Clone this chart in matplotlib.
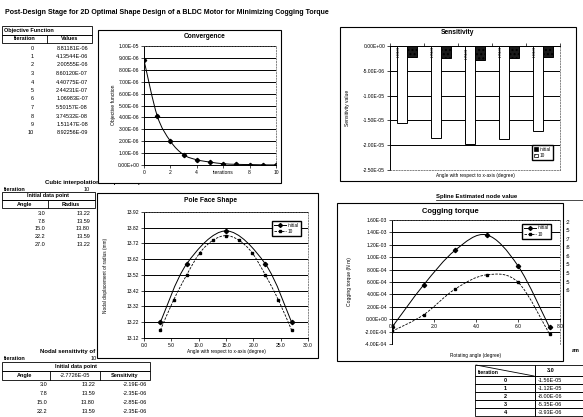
import numpy as np
import matplotlib
matplotlib.use('Agg')
import matplotlib.pyplot as plt
from matplotlib.patches import Rectangle, PathPatch, Patch
from matplotlib.path import Path
from matplotlib.lines import Line2D
from matplotlib.ticker import FormatStrFormatter

plt.rcParams['font.family'] = ['Liberation Sans', 'DejaVu Sans']

# ---- data
iterations = list(range(11))
objective = [8.81181e-06, 4.13544e-06, 2.00555e-06, 8.60120e-07, 4.40775e-07, 2.44231e-07,
             1.06983e-07, 5.50157e-08, 3.74532e-08, 1.51147e-08, 8.92256e-09]

sens_angles = [3.0, 7.8, 15.0, 22.2, 27.0]
sens_initial = [-1.56e-05, -1.85e-05, -1.98e-05, -1.87e-05, -1.71e-05]
sens_10 = [-2.19e-06, -2.35e-06, -2.85e-06, -2.35e-06, -2.19e-06]

pole_angles = [3.0, 7.8, 15.0, 22.2, 27.0]
radius_initial = [13.22, 13.59, 13.80, 13.59, 13.22]
pole_angles_10 = [3.0, 5.4, 7.8, 10.2, 12.6, 15.0, 17.4, 19.8, 22.2, 24.6, 27.0]
radius_10 = [13.17, 13.36, 13.52, 13.66, 13.74, 13.77, 13.74, 13.66, 13.52, 13.36, 13.17]

cog_angles = [0.0, 1.5, 3.0, 4.5, 6.0, 7.5]
cog_initial = [-1.3e-04, 5.5e-04, 1.11e-03, 1.36e-03, 8.6e-04, -1.3e-04]
cog_10 = [-1.95e-04, 7.0e-05, 4.85e-04, 7.15e-04, 5.97e-04, -2.4e-04]

spline_iter = [0, 1, 2, 3, 4]
spline_sens_3deg = [-1.56e-05, -1.12e-05, -8.00e-06, -5.35e-06, -3.93e-06]
cut_digits = ['2', '5', '7', '8', '6', '5', '5', '5', '6']

W, H = 583, 417
fig = plt.figure(figsize=(W / 100, H / 100), dpi=100)
fig.patch.set_facecolor('white')


def fx(x):
    return x / W


def fy(y):
    return 1 - y / H


def txt(x, y, s, size=4, ha='left', weight='normal', z=1, **kw):
    fig.text(fx(x), fy(y), s, fontsize=size, ha=ha, va='center',
             fontweight=weight, zorder=z, **kw)


def line(x0, y0, x1, y1, lw=0.6, z=1):
    fig.add_artist(Line2D([fx(x0), fx(x1)], [fy(y0), fy(y1)],
                          transform=fig.transFigure, color='black', lw=lw, zorder=z))


def rect(x0, y0, x1, y1, lw=0.6, z=1, fc='none'):
    fig.add_artist(Rectangle((fx(x0), fy(y1)), (x1 - x0) / W, (y1 - y0) / H,
                             transform=fig.transFigure, fc=fc, ec='black', lw=lw, zorder=z))


def new_axes(x0, y0, x1, y1):
    ax = fig.add_axes([fx(x0), fy(y1), (x1 - x0) / W, (y1 - y0) / H])
    ax.set_zorder(5)
    ax.tick_params(labelsize=3.6, length=2, width=0.5, pad=1.5)
    for s in ['top', 'right']:
        ax.spines[s].set_linestyle((0, (2, 2)))
        ax.spines[s].set_linewidth(0.5)
        ax.spines[s].set_color('#555555')
    for s in ['left', 'bottom']:
        ax.spines[s].set_linewidth(0.7)
    ax.yaxis.grid(True, color='black', lw=0.7)
    ax.set_axisbelow(True)
    return ax


def ftext(ax, x, y, s, size=4, rot=0, weight='normal', ha='center'):
    ax.text(fx(x), fy(y), s, transform=fig.transFigure, fontsize=size, rotation=rot,
            ha=ha, va='center', fontweight=weight, clip_on=False)


def smooth(ax, x, y, ls='-', lw=0.7):
    pts = np.column_stack([x, y]).astype(float)
    n = len(pts)
    verts = [pts[0]]
    codes = [Path.MOVETO]
    for i in range(n - 1):
        p0 = pts[i - 1] if i > 0 else pts[i]
        p1, p2 = pts[i], pts[i + 1]
        p3 = pts[i + 2] if i + 2 < n else pts[i + 1]
        verts += [p1 + (p2 - p0) / 6, p2 - (p3 - p1) / 6, p2]
        codes += [Path.CURVE4] * 3
    ax.add_patch(PathPatch(Path(verts, codes), fill=False, ec='black', lw=lw, ls=ls))


# ---- sheet text behind the charts
txt(5, 12, 'Post-Design Stage for 2D Optimal Shape Design of a BLDC Motor for Minimizing Cogging Torque',
    size=5, weight='bold')

# objective function table
rect(2, 26, 92, 35)
txt(4, 30.5, 'Objective Function', size=4, weight='bold')
rect(2, 35, 92, 43)
line(47, 35, 47, 43)
txt(24, 39, 'Iteration', size=4, ha='center', weight='bold')
txt(70, 39, 'Values', size=4, ha='center', weight='bold')
for i, v in zip(iterations, objective):
    txt(34, 48 + 8.5 * i, str(i), ha='right')
    txt(88, 48 + 8.5 * i, '%.5E' % v, ha='right')

# cubic interpolation table
txt(45, 183, 'Cubic interpolation of a pole shape', size=4.3, weight='bold')
txt(4, 189, 'Iteration', weight='bold')
txt(90, 189, '10', ha='right')
rect(2, 192, 95, 200)
txt(48, 196, 'Initial data point', ha='center', weight='bold')
rect(2, 200, 95, 208)
line(48, 200, 48, 208)
txt(25, 204, 'Angle', ha='center', weight='bold')
txt(71, 204, 'Radius', ha='center', weight='bold')
for k, (a, r) in enumerate(zip(pole_angles, radius_initial)):
    txt(45, 213 + 8 * k, '%.1f' % a, ha='right')
    txt(90, 213 + 8 * k, '%.2f' % r, ha='right')

# nodal sensitivity table
txt(40, 351, 'Nodal sensitivity of pole shape', size=4.3, weight='bold')
txt(4, 358, 'Iteration', weight='bold')
txt(97, 358, '10', ha='right')
rect(2, 362, 150, 371)
txt(76, 366.5, 'Initial data point', ha='center', weight='bold')
rect(2, 371, 150, 380)
line(50, 371, 50, 380)
line(100, 371, 100, 380)
txt(25, 375.5, 'Angle', ha='center', weight='bold')
txt(75, 375.5, '-2.7726E-05', ha='center')
txt(125, 375.5, 'Sensitivity', ha='center', weight='bold')
for k in range(4):
    txt(47, 385 + 8.7 * k, '%.1f' % pole_angles[k], ha='right')
    txt(95, 385 + 8.7 * k, '%.2f' % radius_initial[k], ha='right')
    txt(147, 385 + 8.7 * k, '%.2E' % sens_10[k], ha='right')

# spline table on the right
txt(436, 197, 'Spline Estimated node value', size=4.3, weight='bold')
line(436, 200, 583, 200, lw=0.5)
for k, d in enumerate(cut_digits):
    txt(566, 222 + 8.6 * k, ':' + d, size=4)
txt(572, 351, 'am', size=4, weight='bold')
rect(475, 365, 535, 376)
rect(535, 365, 590, 376)
line(476, 365, 534, 376, lw=0.6)
txt(478, 372, 'Iteration', size=3.8, weight='bold')
txt(547, 370, '3.0', weight='bold')
for k, (it, v) in enumerate(zip(spline_iter, spline_sens_3deg)):
    y0 = 376 + 8.0 * k
    rect(475, y0, 535, y0 + 8.0)
    rect(535, y0, 590, y0 + 8.0)
    txt(505, y0 + 4.0, str(it), ha='center', weight='bold')
    txt(538, y0 + 4.0, '%.2E' % v)

# ---- chart frames
rect(98, 30, 281, 183, lw=0.8, z=3, fc='white')
rect(340, 27, 576, 181, lw=0.8, z=3, fc='white')
rect(97, 193, 318, 358, lw=0.8, z=3, fc='white')
rect(337, 203, 563, 361, lw=0.8, z=3, fc='white')

# ---- convergence
ax = new_axes(144, 46, 276, 165)
smooth(ax, iterations, objective, lw=0.7)
ax.plot(iterations, objective, ls='none', marker='D', ms=2.2, color='black')
ax.set_xlim(0, 10)
ax.set_ylim(0, 1.0e-05)
ax.set_yticks([k * 1e-06 for k in range(11)])
ax.yaxis.set_major_formatter(FormatStrFormatter('%.2E'))
ax.set_xticks([0, 2, 4, 6, 8, 10])
ax.set_xticklabels(['0', '2', '4', 'iterations', '8', '10'])
ftext(ax, 205, 37, 'Convergence', size=4.8, weight='bold')
ftext(ax, 113, 105, 'Objective function', size=3.6, rot=90)

# ---- sensitivity
ax = new_axes(390, 46, 560, 170)
xs = np.arange(1, len(sens_angles) + 1)
ax.bar(xs - 0.15, sens_initial, width=0.3, color='white', edgecolor='black', lw=0.7, zorder=3)
ax.bar(xs + 0.15, sens_10, width=0.3, color='#1a1a1a', edgecolor='black', lw=0.7,
       hatch='....', zorder=3)
for xx, v in zip(xs, sens_10):
    ax.text(xx - 0.15 - 0.08, v / 2, '%.2E' % v, rotation=90, fontsize=1.8,
            ha='center', va='center', zorder=4)
ax.set_xlim(0.5, len(sens_angles) + 0.5)
ax.set_ylim(-2.5e-05, 0)
ax.set_yticks([-2.5e-05, -2.0e-05, -1.5e-05, -1.0e-05, -5.0e-06, 0.0])
ax.yaxis.set_major_formatter(FormatStrFormatter('%.2E'))
ax.xaxis.tick_top()
ax.set_xticks(np.arange(0.5, len(sens_angles) + 1, 1))
ax.set_xticklabels([])
ax.spines['top'].set_linestyle('-')
ax.spines['top'].set_color('black')
ax.spines['top'].set_linewidth(0.7)
ax.spines['bottom'].set_linestyle((0, (2, 2)))
ax.spines['bottom'].set_color('#555555')
ax.spines['bottom'].set_linewidth(0.5)
ftext(ax, 457, 33, 'Sensitivity', size=4.8, weight='bold')
ftext(ax, 347, 108, 'Sensitivity value', size=3.6, rot=90)
ftext(ax, 475, 175, 'Angle with respect to x-axis (degree)', size=3.4)
hs = [Patch(fc='black', ec='black', lw=0.5), Patch(fc='white', ec='black', lw=0.5, hatch='....')]
ax.legend(hs, ['initial', '10'], loc='lower right', bbox_to_anchor=(0.97, 0.06), fontsize=3.4,
          frameon=True, fancybox=False, edgecolor='black', framealpha=1, handlelength=0.8,
          handleheight=0.8, borderpad=0.4, labelspacing=0.3, handletextpad=0.4)

# ---- pole face shape
ax = new_axes(144, 212, 308, 338)
smooth(ax, pole_angles, radius_initial, lw=0.7)
smooth(ax, pole_angles_10, radius_10, ls=(0, (3, 1.5)), lw=0.6)
ax.plot(pole_angles, radius_initial, ls='none', marker='D', ms=2.2, color='black')
ax.plot(pole_angles_10, radius_10, ls='none', marker='s', ms=1.8, color='black')
ax.set_xlim(0, 30)
ax.set_ylim(13.12, 13.92)
ax.set_yticks(np.round(np.arange(13.12, 13.93, 0.1), 2))
ax.yaxis.set_major_formatter(FormatStrFormatter('%.2f'))
ax.set_xticks(np.arange(0, 31, 5))
ax.xaxis.set_major_formatter(FormatStrFormatter('%.1f'))
ftext(ax, 210, 200, 'Pole Face Shape', size=4.8, weight='bold')
ftext(ax, 105, 275, 'Nodal displacement of radius (mm)', size=3.4, rot=90)
ftext(ax, 226, 352, 'Angle with respect to x-axis (degree)', size=3.4)
hs = [Line2D([], [], color='black', lw=0.7, marker='D', ms=2),
      Line2D([], [], color='black', lw=0.6, ls=(0, (3, 1.5)), marker='s', ms=1.8)]
ax.legend(hs, ['initial', '10'], loc='upper right', bbox_to_anchor=(0.97, 0.95), fontsize=3.4,
          frameon=True, fancybox=False, edgecolor='black', framealpha=1, handlelength=2.5,
          borderpad=0.4, labelspacing=0.3, handletextpad=0.4)

# ---- cogging torque
ax = new_axes(392, 220, 560, 344)
smooth(ax, cog_angles, cog_initial, lw=0.7)
smooth(ax, cog_angles, cog_10, ls=(0, (3, 1.5)), lw=0.6)
ax.plot(cog_angles, cog_initial, ls='none', marker='D', ms=2.2, color='black')
ax.plot(cog_angles, cog_10, ls='none', marker='s', ms=1.8, color='black')
ax.set_xlim(0, 8)
ax.set_ylim(-4e-04, 1.6e-03)
ax.set_yticks([k * 2e-04 for k in range(-2, 9)])
ax.yaxis.set_major_formatter(FormatStrFormatter('%.2E'))
ax.set_xticks([0, 2, 4, 6, 8])
ax.xaxis.set_major_formatter(FormatStrFormatter('%.1f'))
ax.spines['bottom'].set_position(('data', 0))
ftext(ax, 450, 212, 'Cogging torque', size=5.5, weight='bold')
ftext(ax, 350, 282, 'Cogging torque (N m)', size=3.6, rot=90)
ftext(ax, 476, 355, 'Rotating angle (degree)', size=3.4)
ax.legend(hs, ['initial', '10'], loc='upper right', bbox_to_anchor=(0.96, 0.99), fontsize=3.4,
          frameon=True, fancybox=False, edgecolor='black', framealpha=1, handlelength=2.5,
          borderpad=0.4, labelspacing=0.3, handletextpad=0.4)

fig.savefig('out.png', dpi=100)
